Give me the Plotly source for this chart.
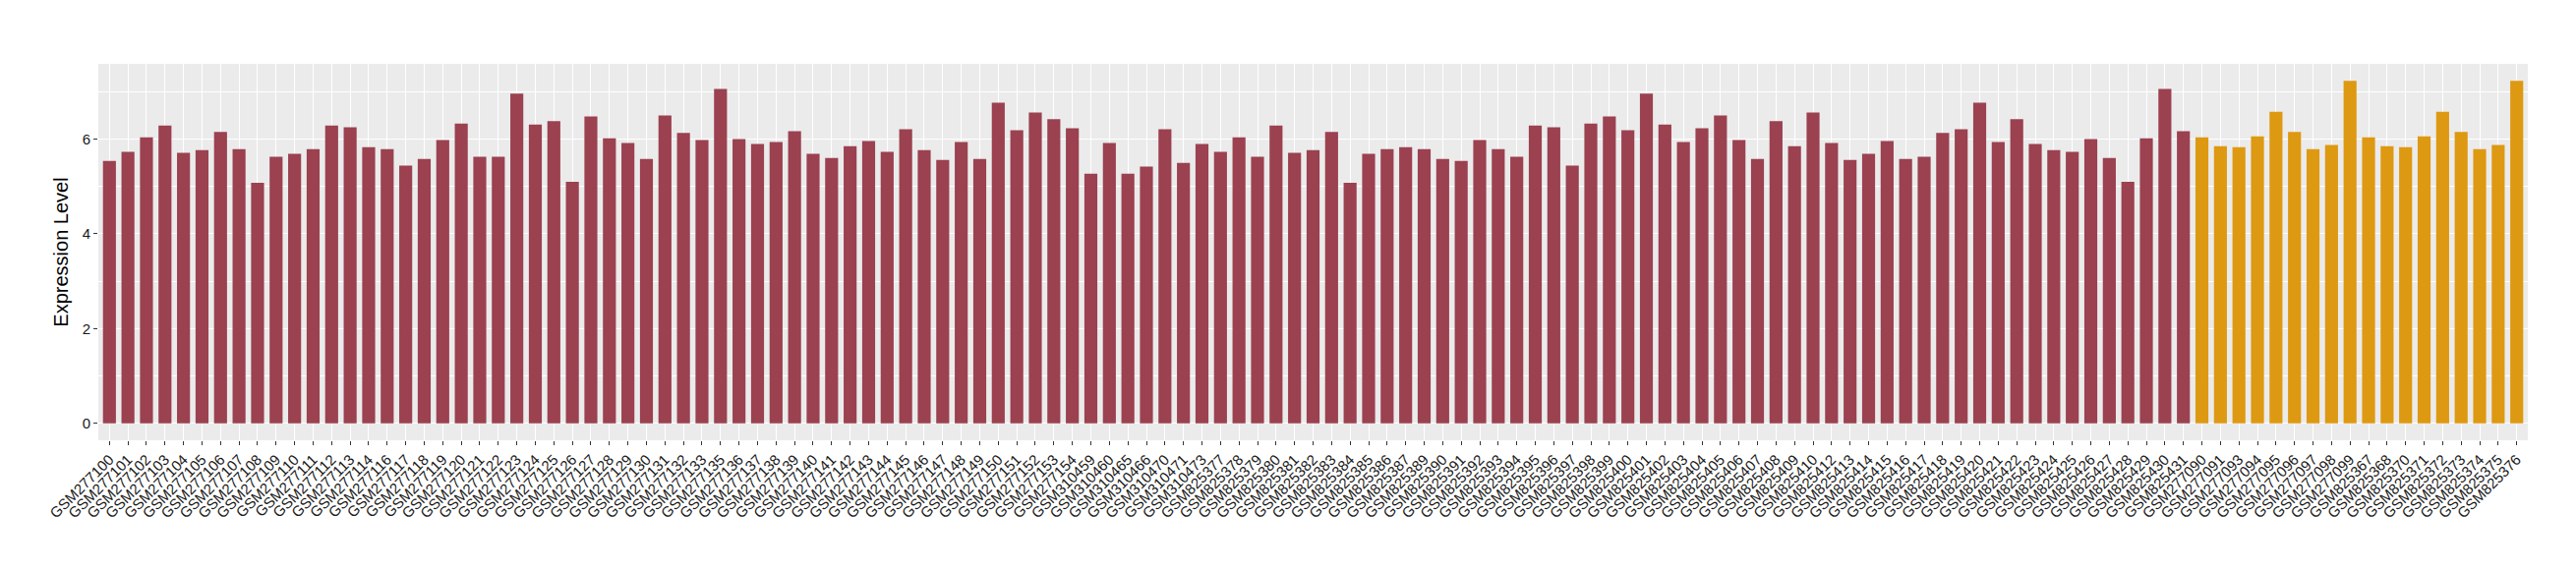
import plotly.graph_objects as go

samples = [
    "GSM277100", "GSM277101", "GSM277102", "GSM277103", "GSM277104", "GSM277105", "GSM277106",
    "GSM277107", "GSM277108", "GSM277109", "GSM277110", "GSM277111", "GSM277112", "GSM277113",
    "GSM277114", "GSM277116", "GSM277117", "GSM277118", "GSM277119", "GSM277120", "GSM277121",
    "GSM277122", "GSM277123", "GSM277124", "GSM277125", "GSM277126", "GSM277127", "GSM277128",
    "GSM277129", "GSM277130", "GSM277131", "GSM277132", "GSM277133", "GSM277135", "GSM277136",
    "GSM277137", "GSM277138", "GSM277139", "GSM277140", "GSM277141", "GSM277142", "GSM277143",
    "GSM277144", "GSM277145", "GSM277146", "GSM277147", "GSM277148", "GSM277149", "GSM277150",
    "GSM277151", "GSM277152", "GSM277153", "GSM277154",
    "GSM310459", "GSM310460", "GSM310465", "GSM310466", "GSM310470", "GSM310471", "GSM310473",
    "GSM825377", "GSM825378", "GSM825379", "GSM825380", "GSM825381", "GSM825382", "GSM825383",
    "GSM825384", "GSM825385", "GSM825386", "GSM825387", "GSM825389", "GSM825390", "GSM825391",
    "GSM825392", "GSM825393", "GSM825394", "GSM825395", "GSM825396", "GSM825397", "GSM825398",
    "GSM825399", "GSM825400", "GSM825401", "GSM825402", "GSM825403", "GSM825404", "GSM825405",
    "GSM825406", "GSM825407", "GSM825408", "GSM825409", "GSM825410", "GSM825412", "GSM825413",
    "GSM825414", "GSM825415", "GSM825416", "GSM825417", "GSM825418", "GSM825419", "GSM825420",
    "GSM825421", "GSM825422", "GSM825423", "GSM825424", "GSM825425", "GSM825426", "GSM825427",
    "GSM825428", "GSM825429", "GSM825430", "GSM825431",
    "GSM277090", "GSM277091", "GSM277093", "GSM277094", "GSM277095", "GSM277096", "GSM277097",
    "GSM277098", "GSM277099", "GSM825367", "GSM825368", "GSM825370", "GSM825371", "GSM825372",
    "GSM825373", "GSM825374", "GSM825375", "GSM825376",
]

values = [
    5.54, 5.73, 6.04, 6.29, 5.71, 5.77, 6.15, 5.79, 5.08, 5.63, 5.69, 5.79, 6.29, 6.25,
    5.83, 5.79, 5.44, 5.58, 5.98, 6.33, 5.63, 5.63, 6.96, 6.31, 6.38, 5.10, 6.48, 6.02,
    5.92, 5.58, 6.50, 6.13, 5.98, 7.06, 6.00, 5.90, 5.94, 6.17, 5.69, 5.60, 5.85, 5.96,
    5.73, 6.21, 5.77, 5.56, 5.94, 5.58, 6.77, 6.19, 6.56, 6.42, 6.23,
    5.27, 5.92, 5.27, 5.42, 6.21, 5.50, 5.90,
    5.73, 6.04, 5.63, 6.29, 5.71, 5.77, 6.15, 5.08, 5.69, 5.79, 5.83, 5.79, 5.58, 5.54,
    5.98, 5.79, 5.63, 6.29, 6.25, 5.44, 6.33, 6.48, 6.19, 6.96, 6.31, 5.94, 6.23, 6.50,
    5.98, 5.58, 6.38, 5.85, 6.56, 5.92, 5.56, 5.69, 5.96, 5.58, 5.63, 6.13, 6.21, 6.77,
    5.94, 6.42, 5.90, 5.77, 5.73, 6.00, 5.60, 5.10, 6.02, 7.06, 6.17,
    6.04, 5.85, 5.83, 6.06, 6.58, 6.15, 5.79, 5.88, 7.23,
    6.04, 5.85, 5.83, 6.06, 6.58, 6.15, 5.79, 5.88, 7.23,
]

groups = ["A"] * 113 + ["B"] * 18
group_colors = {"A": "#9B4150", "B": "#DE9912"}

y_ticks = [0, 2, 4, 6]
y_tick_labels = ["0", "2", "4", "6"]

fig = go.Figure(
    go.Bar(
        x=samples,
        y=values,
        marker=dict(color=[group_colors[g] for g in groups], line=dict(width=0)),
        showlegend=False,
    )
)

fig.update_layout(
    width=2620,
    height=580,
    margin=dict(l=92, r=57, t=57, b=140),
    paper_bgcolor="white",
    plot_bgcolor="#EBEBEB",
    bargap=0.3,
    font=dict(family="Liberation Sans, Arial, sans-serif", color="#1a1a1a"),
)

fig.update_xaxes(
    type="category",
    range=[-0.6, len(samples) - 0.4],
    tickmode="array",
    tickvals=samples,
    ticktext=samples,
    tickangle=-45,
    tickfont=dict(size=15, color="#1a1a1a"),
    ticks="outside",
    ticklen=4,
    tickwidth=1,
    tickcolor="#333333",
    showgrid=True,
    gridcolor="white",
    gridwidth=1.3,
    showline=False,
    zeroline=False,
)

fig.update_yaxes(
    range=[-0.36, 7.59],
    tickvals=y_ticks,
    ticktext=y_tick_labels,
    tickfont=dict(size=15, color="#1a1a1a"),
    ticks="outside",
    ticklen=4,
    tickwidth=1,
    tickcolor="#333333",
    showgrid=True,
    gridcolor="white",
    gridwidth=1.3,
    minor=dict(dtick=1, tick0=0, showgrid=True, gridcolor="white", gridwidth=0.7, ticks=""),
    zeroline=False,
    showline=False,
    title=dict(text="Expression Level", font=dict(size=20, color="#000000"), standoff=8),
)

fig.write_html("out.html")
